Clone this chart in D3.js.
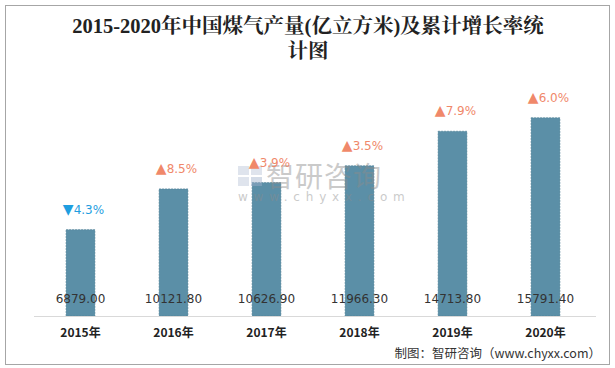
<!DOCTYPE html>
<html><head><meta charset="utf-8">
<script src="https://cdn.jsdelivr.net/npm/d3@7/dist/d3.min.js"></script>
<style>body{margin:0;background:#fff;}svg{display:block;}</style>
</head><body>
<svg id="c" width="615" height="368"></svg>
<script>
const years = ["2015年","2016年","2017年","2018年","2019年","2020年"];
const output = [6879.00,10121.80,10626.90,11966.30,14713.80,15791.40];
const growth = [-4.3,8.5,3.9,3.5,7.9,6.0];
const titleLines = ["2015-2020年中国煤气产量(亿立方米)及累计增长率统","计图"];
const sourceText = "制图：智研咨询（www.chyxx.com）";

const svg = d3.select("#c");
svg.append("rect").attr("x",5.5).attr("y",5.5).attr("width",604).attr("height",359)
  .attr("fill","#fff").attr("stroke","#a6a6a6").attr("stroke-width",1);

const x = d3.scaleBand().domain(years).range([34,592]).paddingInner(0.69).paddingOuter(0.345);
const y = d3.scaleLinear().domain([0,18000]).range([316,90]);

// title
svg.append("g").selectAll("text").data(titleLines).join("text")
  .attr("x",308).attr("y",(d,i)=>33+i*25).attr("text-anchor","middle")
  .attr("font-family","'Liberation Serif','Noto Serif CJK SC','Noto Sans CJK SC',serif")
  .attr("font-size",20.5).attr("font-weight","bold").attr("fill","#222").text(d=>d);

// bars
svg.append("g").selectAll("rect").data(output).join("rect")
  .attr("x",(d,i)=>x(years[i])).attr("width",x.bandwidth())
  .attr("y",d=>y(d)).attr("height",d=>y(0)-y(d))
  .attr("fill","#5b8fa7").attr("stroke","#4f7f96").attr("stroke-width",0.6).attr("stroke-dasharray","2,1");

// watermark (drawn over bars, semi-transparent)
const wm = svg.append("g").attr("opacity",0.45);
wm.append("rect").attr("x",238).attr("y",166).attr("width",11).attr("height",9).attr("fill","#b9c4d8");
wm.append("rect").attr("x",251).attr("y",166).attr("width",11).attr("height",9).attr("fill","#b9c4d8");
wm.append("rect").attr("x",238).attr("y",177).attr("width",11).attr("height",9).attr("fill","#b9c4d8");
wm.append("rect").attr("x",251).attr("y",177).attr("width",11).attr("height",9).attr("fill","#9fb0cc");
wm.append("text").attr("x",266).attr("y",187).attr("font-family","'Noto Sans CJK SC',sans-serif")
  .attr("font-size",28).attr("fill","#8c8c8c").attr("letter-spacing",1).text("智研咨询");
wm.append("text").attr("x",238).attr("y",201).attr("font-family","'DejaVu Sans',sans-serif")
  .attr("font-size",12).attr("fill","#8c8c8c").attr("letter-spacing",5.8).text("www.chyxx.com");

// axis
const xAxis = d3.axisBottom(x).tickSize(0).tickPadding(12);
const ax = svg.append("g").attr("transform","translate(0,316)").call(xAxis);
ax.select(".domain").attr("stroke","#d9d9d9").attr("d","M34,0.5H596");
ax.selectAll("text").attr("font-family","'Noto Sans CJK SC',sans-serif").attr("font-size",12)
  .attr("font-weight","bold").attr("fill","#222");

// value labels
svg.append("g").selectAll("text").data(output).join("text")
  .attr("x",(d,i)=>x(years[i])+x.bandwidth()/2).attr("y",303).attr("text-anchor","middle")
  .attr("font-family","'DejaVu Sans',sans-serif").attr("font-size",12).attr("fill","#333")
  .text(d=>d.toFixed(2));

// growth labels
const gl = svg.append("g").selectAll("text").data(growth).join("text")
  .attr("x",(d,i)=>x(years[i])+x.bandwidth()/2+3).attr("y",(d,i)=>y(output[i])-16)
  .attr("text-anchor","middle")
  .attr("font-family","'DejaVu Sans',sans-serif").attr("font-size",12)
  .attr("fill",d=>d<0?"#1f9ee0":"#f0886a");
gl.append("tspan").attr("font-size",14).text(d=>d<0?"▼":"▲");
gl.append("tspan").text(d=>Math.abs(d).toFixed(1)+"%");

// source
svg.append("text").attr("x",601).attr("y",358).attr("text-anchor","end")
  .attr("font-family","'Noto Sans CJK SC',sans-serif").attr("font-size",12.5).attr("fill","#333")
  .text(sourceText);
</script>
</body></html>
